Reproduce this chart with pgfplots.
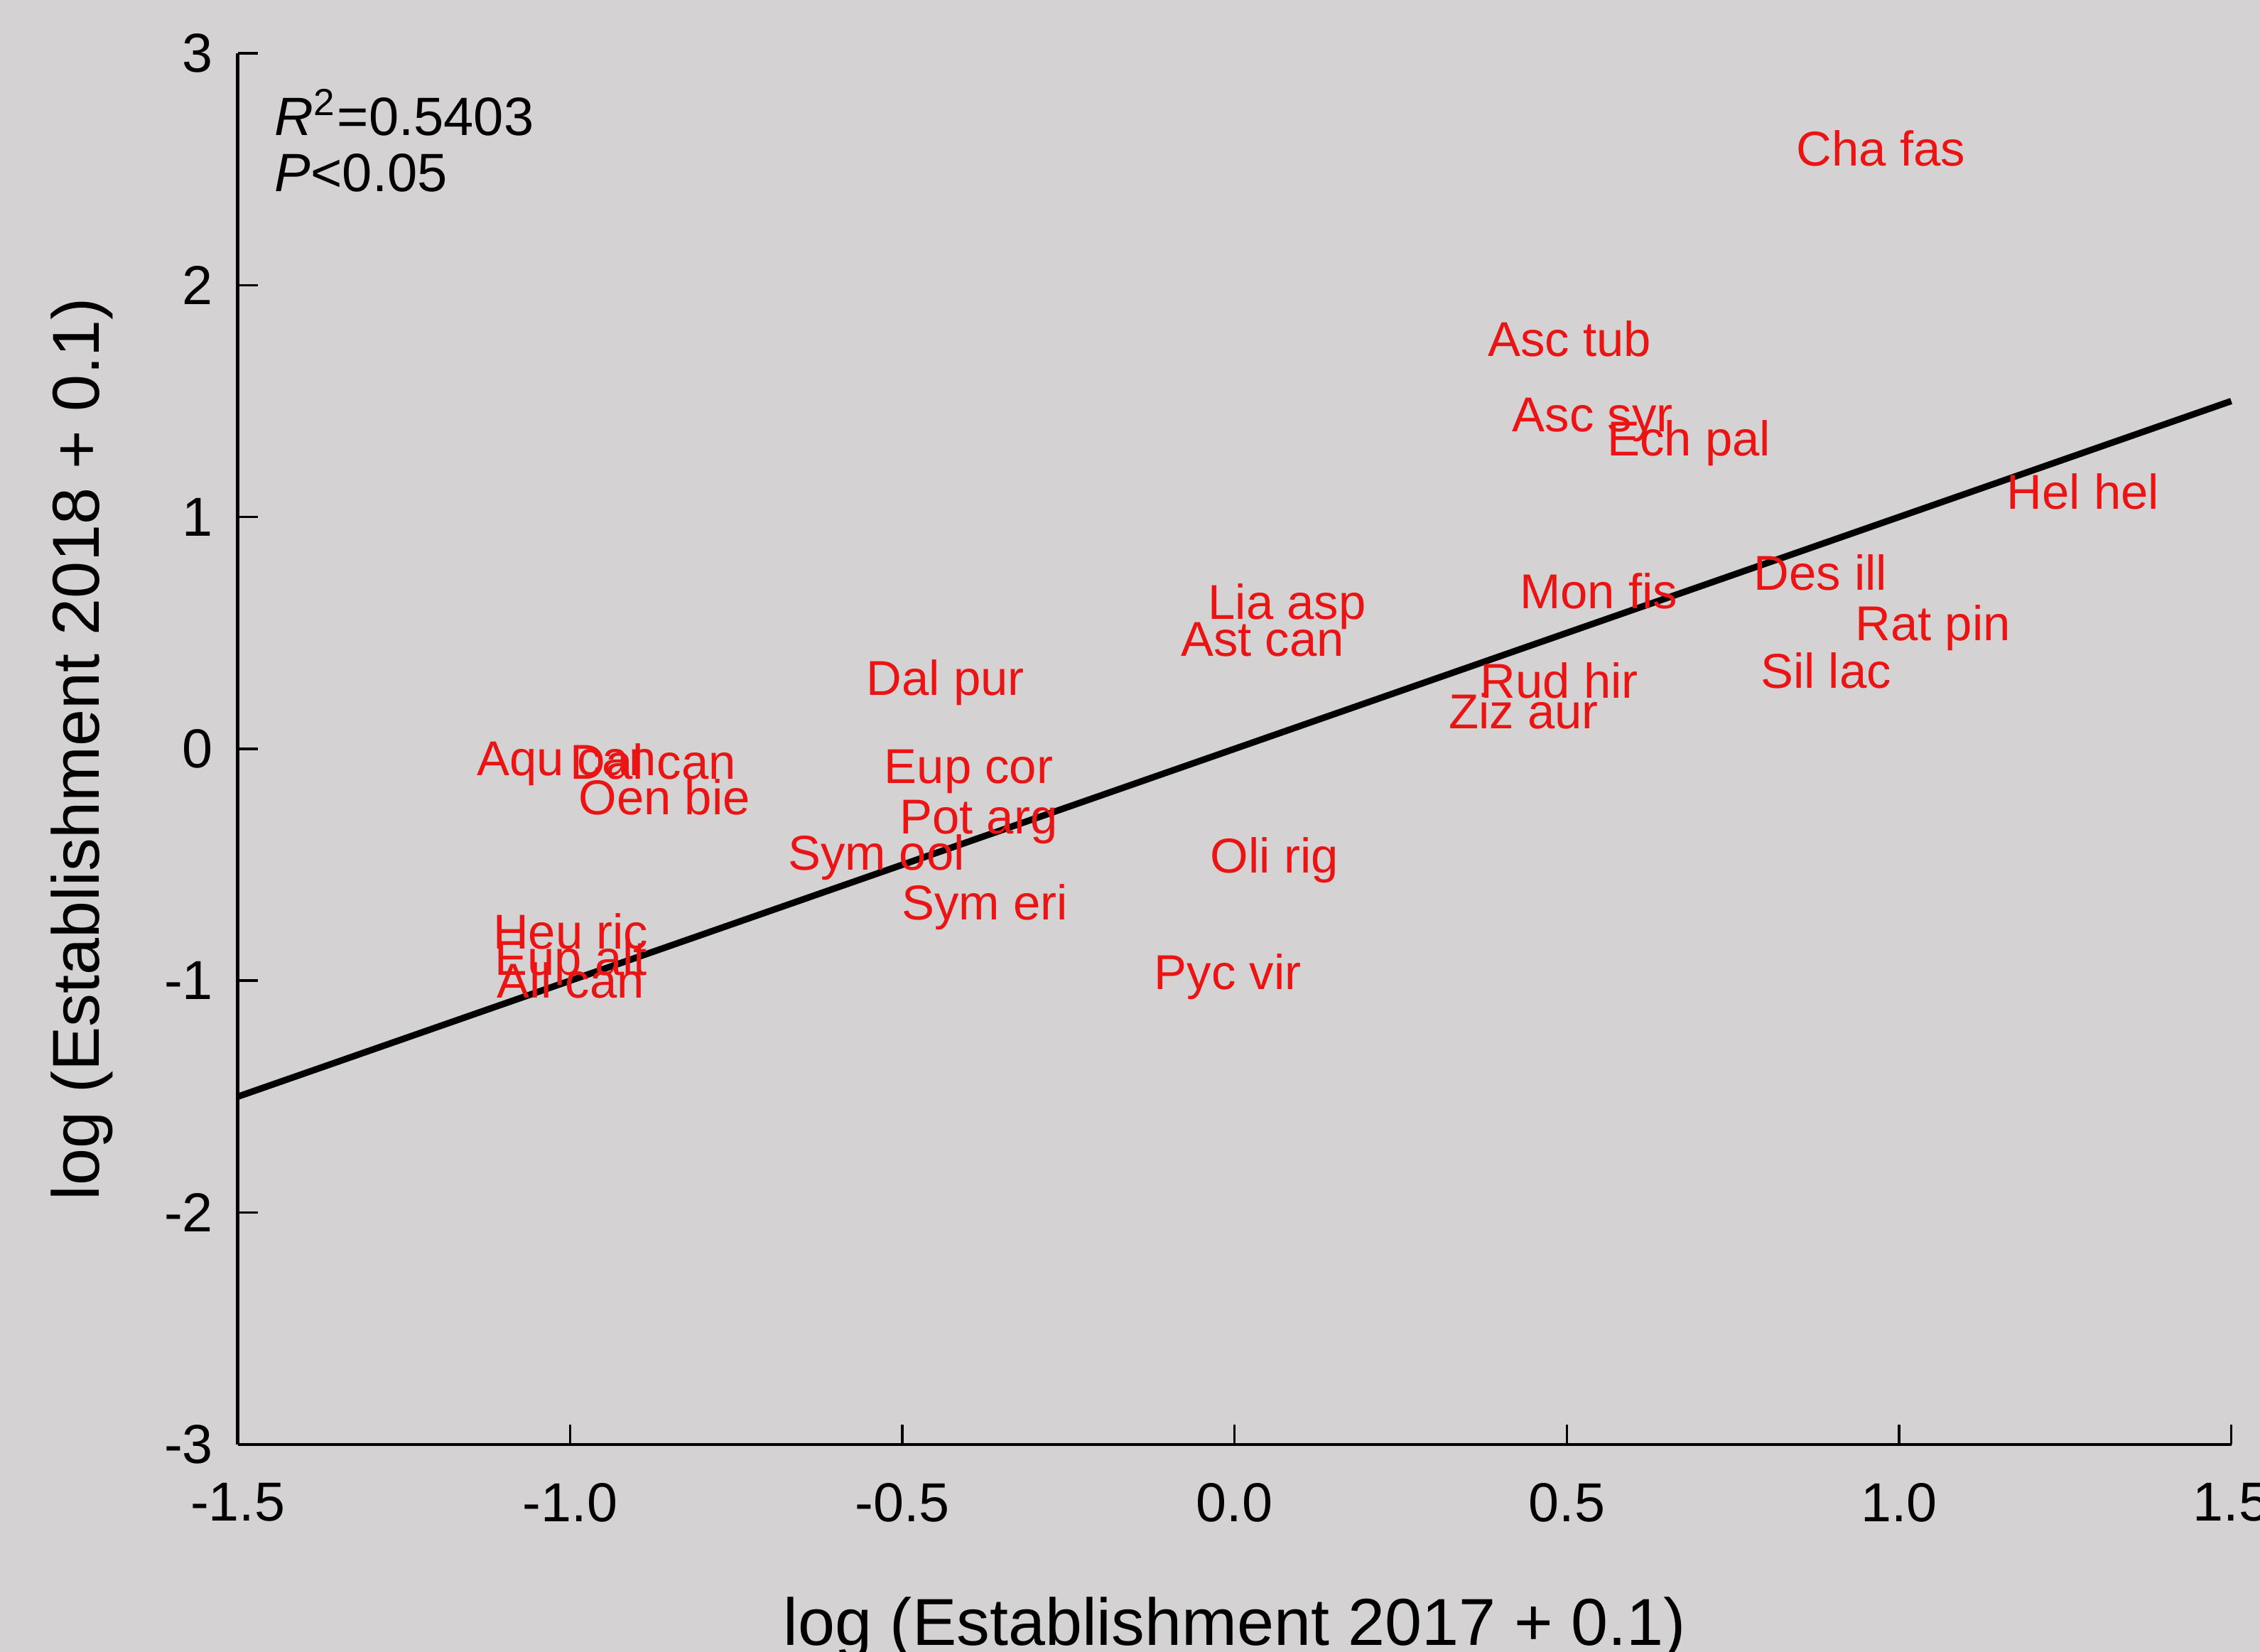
\documentclass[border=0pt]{standalone}
\usepackage{pgfplots}
\pgfplotsset{compat=1.18}
\usepackage{fontspec}
\setmainfont{Liberation Sans}
\definecolor{bggrey}{RGB}{212,210,210}
\definecolor{lblred}{RGB}{235,20,20}
\begin{document}
\begin{tikzpicture}
\useasboundingbox (-1.674,-1.46) rectangle (14.2325,10.165);
\fill[bggrey] (-1.674,-1.46) rectangle (14.2325,10.165);
\begin{axis}[
  at={(0,0)}, anchor=south west,
  scale only axis, width=14.03cm, height=9.79cm,
  xmin=-1.5, xmax=1.5, ymin=-3, ymax=3,
  axis x line=bottom, axis y line=left,
  axis line style={-, line width=0.65pt, black},
  tick align=inside, major tick length=0.14cm,
  tick style={black, line width=0.5pt},
  xtick={-1.5,-1,-0.5,0,0.5,1,1.5},
  ytick={-3,-2,-1,0,1,2,3},
  /pgf/number format/assume math mode=true,
  xticklabel style={/pgf/number format/fixed, /pgf/number format/fixed zerofill, /pgf/number format/precision=1, font=\fontsize{11}{13}\selectfont, yshift=-0.15cm},
  yticklabel style={font=\fontsize{11}{13}\selectfont, xshift=-0.05cm},
  xlabel={log (Establishment 2017 + 0.1)},
  ylabel={log (Establishment 2018 + 0.1)},
  label style={font=\fontsize{13.3}{16}\selectfont},
  xlabel style={at={(rel axis cs:0.5,0)}, anchor=center, yshift=-1.295cm},
  ylabel style={at={(rel axis cs:0,0.5)}, anchor=center, yshift=1.095cm},
  clip=false,
]
\addplot[black, line width=1.3pt] coordinates {(-1.5,-1.5) (1.5,1.5)};
\addplot[only marks, mark=none, nodes near coords, point meta=explicit symbolic,
  nodes near coords style={anchor=base, yshift=-3.55pt, text=lblred, font=\fontsize{9.8}{11}\selectfont, inner sep=0pt}]
  table[col sep=comma, x=x, y=y, meta=label] {
label,x,y
Cha fas,0.973,2.59
Asc tub,0.504,1.77
Asc syr,0.539,1.446
Ech pal,0.684,1.34
Hel hel,1.277,1.11
Des ill,0.882,0.762
Rat pin,1.051,0.544
Sil lac,0.890,0.339
Mon fis,0.548,0.681
Rud hir,0.489,0.295
Ziz aur,0.435,0.165
Lia asp,0.079,0.637
Ast can,0.042,0.476
Dal pur,-0.435,0.308
Eup cor,-0.400,-0.072
Pot arg,-0.385,-0.289
Sym ool,-0.539,-0.445
Sym eri,-0.376,-0.662
Oli rig,0.060,-0.457
Pyc vir,-0.010,-0.961
Aqu can,-1.005,-0.040
Dal can,-0.875,-0.053
Oen bie,-0.858,-0.208
Heu ric,-0.999,-0.787
Eup alt,-0.999,-0.899
All can,-0.999,-0.998
};
\node[anchor=west, font=\fontsize{10.8}{13}\selectfont, inner sep=0pt, xshift=0.254cm, yshift=-0.415cm] at (rel axis cs:0,1) {\textit{R}\textsuperscript{2}=0.5403};
\node[anchor=west, font=\fontsize{10.8}{13}\selectfont, inner sep=0pt, xshift=0.254cm, yshift=-0.84cm] at (rel axis cs:0,1) {\textit{P}<0.05};
\end{axis}
\end{tikzpicture}
\end{document}
